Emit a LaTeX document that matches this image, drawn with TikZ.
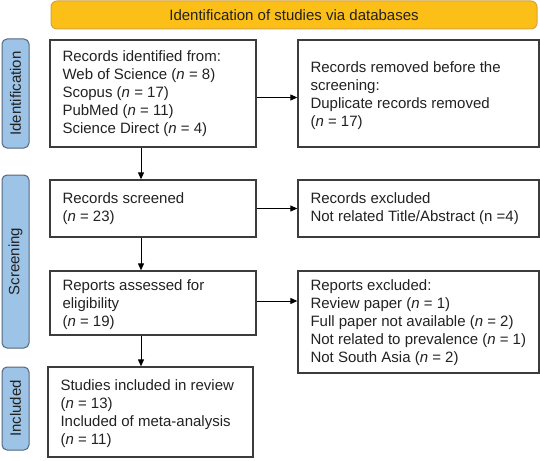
\documentclass[tikz,border=0pt]{standalone}
\usepackage{fontspec}
\setmainfont{Liberation Sans}
\usetikzlibrary{arrows.meta}
\definecolor{boxline}{HTML}{3C3C3C}
\definecolor{textc}{HTML}{222222}
\definecolor{bannerfill}{HTML}{FCBF17}
\definecolor{bannerline}{HTML}{D6A23C}
\definecolor{sidefill}{HTML}{9DC3E6}
\definecolor{sideline}{HTML}{53677D}
\begin{document}
\begin{tikzpicture}[x=1pt,y=-1pt,
  font=\fontsize{15}{18}\selectfont,
  box/.style={draw=boxline, line width=1.3pt, inner sep=0pt, fill=white},
  txt/.style={align=left, inner sep=0pt, text=textc, anchor=west},
  side/.style={draw=sideline, line width=1pt, fill=sidefill, rounded corners=5pt,
    rotate=90, inner sep=0pt, minimum height=27pt, text=textc},
  banner/.style={draw=bannerline, line width=1pt, fill=bannerfill, rounded corners=6pt,
    inner sep=0pt, minimum width=486pt, minimum height=28pt, text=textc},
  arr/.style={draw=black, line width=1pt, -{Triangle[length=7pt,width=6pt]}}]
\useasboundingbox (0,0) rectangle (540,460);

\node[banner] (ban) at (294,15) {Identification of studies via databases};

\node[side, minimum width=109pt] (s1) at (15.5,93.5) {Identification};
\node[side, minimum width=173pt] (s2) at (15.5,261.5) {Screening};
\node[side, minimum width=83pt] (s3) at (15.5,408.5) {Included};

\node[box, minimum width=206pt, minimum height=107pt] (b1) at (153,93.5) {};
\node[txt] (t1) at ([xshift=13pt]b1.west) {Records identified from:\\Web of Science (\textit{n} = 8)\\Scopus (\textit{n} = 17)\\PubMed (\textit{n} = 11)\\Science Direct (\textit{n} = 4)};

\node[box, minimum width=241pt, minimum height=107pt] (b2) at (418.5,93.5) {};
\node[txt] (t2) at ([xshift=13pt,yshift=-2pt]b2.west) {Records removed before the\\screening:\\Duplicate records removed\\(\textit{n} = 17)};

\node[box, minimum width=206pt, minimum height=57pt] (b3) at (153,208.5) {};
\node[txt] (t3) at ([xshift=13pt]b3.west) {Records screened\\(\textit{n} = 23)};

\node[box, minimum width=241pt, minimum height=57pt] (b4) at (418.5,208.5) {};
\node[txt] (t4) at ([xshift=13pt]b4.west) {Records excluded\\Not related Title/Abstract (n =4)};

\node[box, minimum width=206pt, minimum height=64pt] (b5) at (153,303) {};
\node[txt] (t5) at ([xshift=13pt,yshift=-2pt]b5.west) {Reports assessed for\\eligibility\\(\textit{n} = 19)};

\node[box, minimum width=241pt, minimum height=102pt] (b6) at (418.5,322) {};
\node[txt] (t6) at ([xshift=13pt,yshift=-1pt]b6.west) {Reports excluded:\\Review paper (\textit{n} = 1)\\Full paper not available (\textit{n} = 2)\\Not related to prevalence (\textit{n} = 1)\\Not South Asia (\textit{n} = 2)};

\node[box, minimum width=205pt, minimum height=90pt] (b7) at (150.5,412) {};
\node[txt] (t7) at ([xshift=13pt,yshift=-2pt]b7.west) {Studies included in review\\(\textit{n} = 13)\\Included of meta-analysis\\(\textit{n} = 11)};

\coordinate (ax) at (141,0);
\draw[arr] (b1.south -| ax) -- (b3.north -| ax);
\draw[arr] (b3.south -| ax) -- (b5.north -| ax);
\draw[arr] (b5.south -| ax) -- (b7.north -| ax);

\draw[arr] ([yshift=-4pt]b1.east) -- ([yshift=-4pt]b1.east -| b2.west);
\draw[arr] (b3.east) -- (b3.east -| b4.west);
\draw[arr] ([yshift=2pt]b5.east) -- ([yshift=2pt]b5.east -| b6.west);
\end{tikzpicture}
\end{document}
